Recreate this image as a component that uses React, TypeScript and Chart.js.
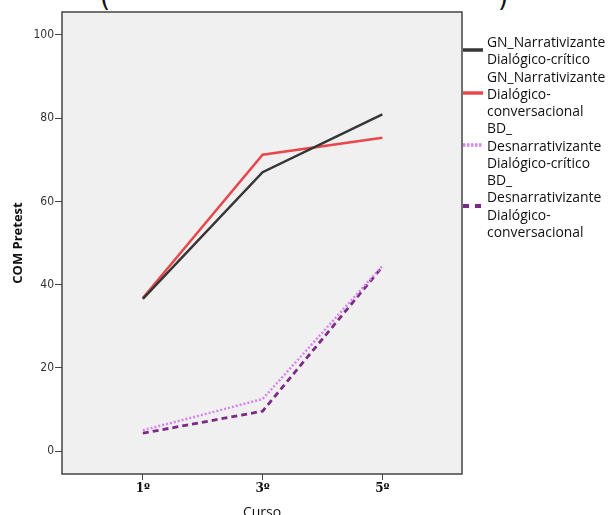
import React, { useEffect, useRef } from "react";
import { Chart, registerables } from "chart.js";

Chart.register(...registerables);

const courseValues = [1, 3, 5];
const courseLabels = ["1º", "3º", "5º"];
const yTickValues = [0, 20, 40, 60, 80, 100];

const seriesNames = [
  ["GN_Narrativizante", "Dialógico-crítico"],
  ["GN_Narrativizante", "Dialógico-", "conversacional"],
  ["BD_", "Desnarrativizante", "Dialógico-crítico"],
  ["BD_", "Desnarrativizante", "Dialógico-", "conversacional"],
];
const gnCritico = [36.6, 67.0, 80.9];
const gnConversacional = [36.8, 71.2, 75.3];
const bdCritico = [5.0, 12.5, 44.5];
const bdConversacional = [4.3, 9.6, 44.3];

const seriesColors = ["#363636", "#e8474b", "#d883f2", "#7d2a84"];
const seriesDash: number[][] = [[], [], [2, 2], [6, 4]];
const seriesWidths = [2.5, 2.5, 2.5, 2.8];

const boxPlugin = {
  id: "boxPlugin",
  beforeDatasetsDraw(chart: any) {
    const { ctx, chartArea } = chart;
    ctx.save();
    ctx.fillStyle = "#f0f0f0";
    ctx.fillRect(chartArea.left, chartArea.top, chartArea.right - chartArea.left, chartArea.bottom - chartArea.top);
    ctx.restore();
  },
  afterDatasetsDraw(chart: any) {
    const { ctx, chartArea } = chart;
    ctx.save();
    ctx.strokeStyle = "#444";
    ctx.lineWidth = 1.5;
    ctx.strokeRect(chartArea.left, chartArea.top, chartArea.right - chartArea.left, chartArea.bottom - chartArea.top);
    ctx.restore();
  },
};

export default function App() {
  const ref = useRef<HTMLCanvasElement>(null);
  useEffect(() => {
    const all = [gnCritico, gnConversacional, bdCritico, bdConversacional];
    const chart = new Chart(ref.current!, {
      type: "line",
      data: {
        datasets: all.map((vals, i) => ({
          label: seriesNames[i].join(" "),
          data: vals.map((v, j) => ({ x: courseValues[j], y: v })),
          borderColor: seriesColors[i],
          backgroundColor: seriesColors[i],
          borderDash: seriesDash[i],
          borderWidth: seriesWidths[i],
          pointRadius: 0,
          tension: 0,
          fill: false,
        })),
      },
      options: {
        animation: false,
        responsive: false,
        maintainAspectRatio: false,
        layout: { padding: { left: 10, top: 12, right: 146, bottom: 0 } },
        plugins: { legend: { display: false }, tooltip: { enabled: false } },
        scales: {
          x: {
            type: "linear",
            min: -0.35,
            max: 6.33,
            afterBuildTicks: (scale: any) => {
              scale.ticks = courseValues.map((v) => ({ value: v }));
            },
            afterFit: (scale: any) => {
              scale.height = 41;
            },
            ticks: {
              callback: (v: any) => courseLabels[courseValues.indexOf(Number(v))] ?? "",
              font: { family: "DejaVu Serif", size: 12, weight: "bold" },
              color: "#111",
              padding: 2,
              maxRotation: 0,
            },
            grid: { drawOnChartArea: false, drawTicks: true, tickLength: 6, color: "#444" },
            border: { display: false },
            title: {
              display: true,
              text: "Curso",
              font: { family: "Open Sans", size: 14 },
              color: "#111",
              padding: { top: 4, bottom: -6 },
            },
          },
          y: {
            type: "linear",
            min: -5.5,
            max: 105.5,
            afterBuildTicks: (scale: any) => {
              scale.ticks = yTickValues.map((v) => ({ value: v }));
            },
            afterFit: (scale: any) => {
              scale.width = 52;
            },
            ticks: {
              font: { family: "DejaVu Sans Condensed", size: 12 },
              color: "#333",
              padding: 1,
            },
            grid: { drawOnChartArea: false, drawTicks: true, tickLength: 7, color: "#444" },
            border: { display: false },
            title: {
              display: true,
              text: "COM Pretest",
              font: { family: "Open Sans", size: 13, weight: "bold" },
              color: "#111",
              padding: { top: 0, bottom: 0 },
            },
          },
        },
      },
      plugins: [boxPlugin],
    } as any);
    return () => chart.destroy();
  }, []);

  return (
    <div style={{ position: "fixed", left: 0, top: 0, width: 608, height: 515, background: "#fff", overflow: "hidden" }}>
      <div style={{ position: "absolute", left: 100, top: -18, fontFamily: "DejaVu Sans", fontSize: 26, color: "#111" }}>(</div>
      <div style={{ position: "absolute", left: 498, top: -18, fontFamily: "DejaVu Sans", fontSize: 26, color: "#111" }}>)</div>
      <canvas ref={ref} width={608} height={515} style={{ position: "absolute", left: 0, top: 0, width: 608, height: 515 }} />
      <div style={{ position: "absolute", left: 463, top: 33, fontFamily: "Open Sans", fontSize: 13.9, lineHeight: "17.25px", color: "#111" }}>
        {seriesNames.map((lines, i) => (
          <div key={i} style={{ display: "flex", alignItems: "center" }}>
            <svg width={22} height={6} style={{ flex: "none", marginRight: 2 }}>
              <line
                x1={0}
                y1={3}
                x2={20}
                y2={3}
                stroke={seriesColors[i]}
                strokeWidth={i === 3 ? 4 : 3.5}
                strokeDasharray={i === 2 ? "2.5 1.5" : i === 3 ? "6 6" : undefined}
              />
            </svg>
            <div style={{ whiteSpace: "nowrap" }}>
              {lines.map((l, k) => (
                <div key={k}>{l}</div>
              ))}
            </div>
          </div>
        ))}
      </div>
    </div>
  );
}
